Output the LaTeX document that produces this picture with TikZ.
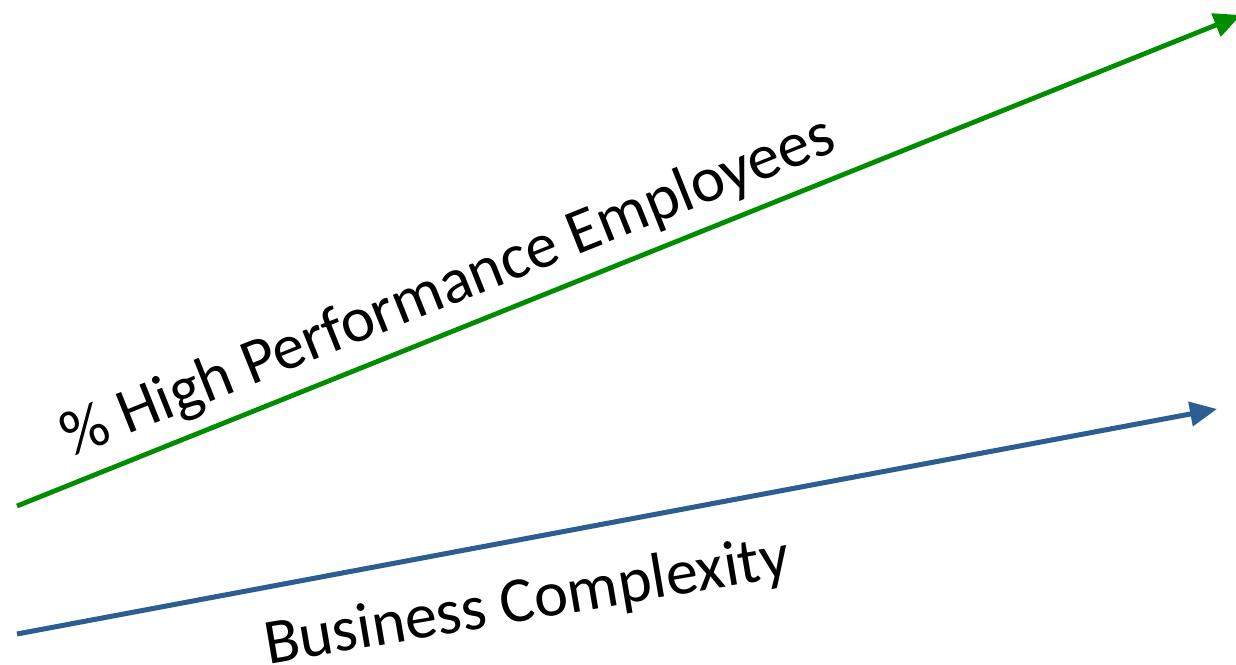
\documentclass[tikz,border=0pt]{standalone}
\usepackage{fontspec}
\setmainfont{Carlito}
\usetikzlibrary{arrows.meta}
\definecolor{hpgreen}{RGB}{0,142,0}
\definecolor{bcblue}{RGB}{44,94,146}
\begin{document}
\begin{tikzpicture}[x=1bp,y=-1bp,
  arrowline/.style={line cap=butt,-{Triangle[length=27bp,width=24bp]}},
  lbl/.style={font=\fontsize{64.5}{70}\selectfont,inner sep=0pt,anchor=base}]
\useasboundingbox (0,0) rectangle (1236,665);
\coordinate (g0) at (17,506);
\coordinate (g1) at (1241,15);
\coordinate (b0) at (17,634);
\coordinate (b1) at (1217,409);
\draw[arrowline,hpgreen,line width=4.8bp] (g0) -- (g1);
\draw[arrowline,bcblue,line width=5bp] (b0) -- (b1);
\node[lbl,rotate=21.8] (hp) at (455,304) {\% High Performance Employees};
\node[lbl,rotate=9.6] (bc) at (530,620) {Business Complexity};
\end{tikzpicture}
\end{document}
